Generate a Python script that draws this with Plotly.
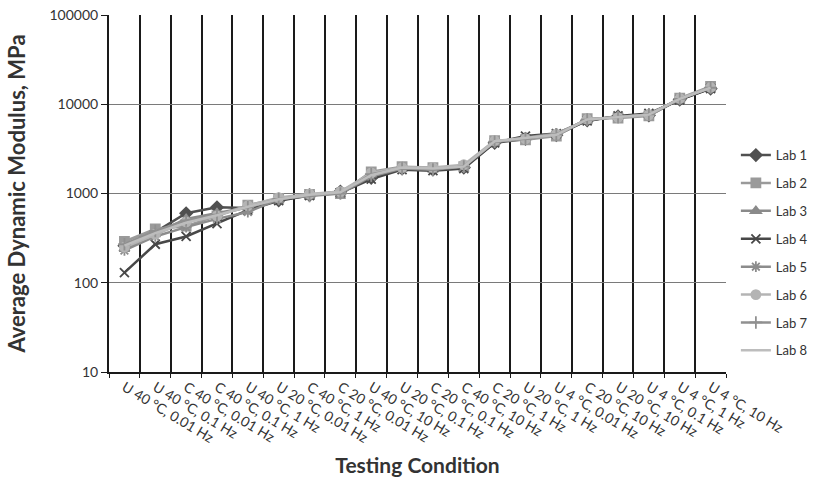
import plotly.graph_objects as go

conditions = [
    "U 40 °C, 0.01 Hz", "U 40 °C, 0.1 Hz", "C 40 °C, 0.01 Hz", "C 40 °C, 0.1 Hz",
    "U 40 °C, 1 Hz", "U 20 °C, 0.01 Hz", "C 40 °C, 1 Hz", "C 20 °C, 0.01 Hz",
    "U 40 °C, 10 Hz", "U 20 °C, 0.1 Hz", "C 20 °C, 0.1 Hz", "C 40 °C, 10 Hz",
    "C 20 °C, 1 Hz", "U 20 °C, 1 Hz", "U 4 °C, 0.01 Hz", "C 20 °C, 10 Hz",
    "U 20 °C, 10 Hz", "U 4 °C, 0.1 Hz", "U 4 °C, 1 Hz", "U 4 °C, 10 Hz",
]

lab1 = [260, 370, 600, 700, 690, 840, 960, 1050, 1500, 1900, 1850, 1950, 3700, 4100, 4500, 6600, 7300, 7500, 11300, 15000]
lab2 = [290, 400, 430, 560, 740, 880, 980, 1000, 1750, 2000, 1950, 2000, 3900, 4000, 4400, 6900, 7000, 7400, 11700, 15800]
lab3 = [240, 360, 520, 600, 700, 850, 940, 1050, 1600, 1950, 1900, 2050, 3800, 4200, 4600, 6700, 7300, 7700, 11500, 15200]
lab4 = [130, 270, 330, 460, 650, 830, 950, 1020, 1450, 1850, 1800, 1900, 3700, 4400, 4700, 6500, 7400, 7900, 11200, 15000]
lab5 = [230, 330, 420, 520, 620, 860, 960, 1000, 1550, 1900, 1900, 2000, 3800, 4200, 4700, 6700, 7200, 7700, 11400, 15500]
lab6 = [250, 350, 480, 560, 730, 900, 990, 1050, 1700, 1950, 1950, 2100, 3900, 4100, 4600, 6800, 7100, 7600, 11600, 15400]
lab7 = [270, 380, 500, 580, 700, 870, 940, 1000, 1650, 1900, 1850, 2000, 3800, 4100, 4600, 6700, 7200, 7700, 11500, 15300]
lab8 = [260, 360, 470, 570, 710, 860, 970, 1030, 1600, 1950, 1900, 2000, 3850, 4150, 4550, 6750, 7250, 7650, 11500, 15300]

series = [
    ("Lab 1", lab1, "#505050", "diamond", 9),
    ("Lab 2", lab2, "#9a9a9a", "square", 9),
    ("Lab 3", lab3, "#8a8a8a", "triangle-up", 9),
    ("Lab 4", lab4, "#484848", "x-thin", 9),
    ("Lab 5", lab5, "#8c8c8c", "asterisk", 9),
    ("Lab 6", lab6, "#b4b4b4", "circle", 9),
    ("Lab 7", lab7, "#909090", "cross-thin", 9),
    ("Lab 8", lab8, "#bdbdbd", None, 0),
]

fig = go.Figure()
for name, vals, color, symbol, size in series:
    if symbol is None:
        fig.add_trace(go.Scatter(x=conditions, y=vals, name=name, mode="lines",
                                 legendgroup=name,
                                 line=dict(color=color, width=2.5)))
    else:
        fig.add_trace(go.Scatter(
            x=conditions, y=vals, name=name, mode="lines+markers",
            legendgroup=name,
            line=dict(color=color, width=2.5),
            marker=dict(symbol=symbol, size=size, color=color,
                        line=dict(color=color, width=1.8)),
        ))

font_family = "Lato, 'Open Sans', sans-serif"

fig.update_layout(
    width=825, height=487,
    margin=dict(l=109, r=95, t=15, b=115),
    paper_bgcolor="white", plot_bgcolor="white",
    font=dict(family=font_family, color="#333333", size=13),
    showlegend=True,
    legend=dict(x=1.016, y=0.333, xanchor="left", yanchor="middle",
                font=dict(size=13, color="#333333"), tracegroupgap=8,
                itemwidth=30, bgcolor="rgba(0,0,0,0)"),
    xaxis=dict(
        type="category", tickson="boundaries", tickangle=31,
        range=[-0.5, 19.5], automargin=False,
        showgrid=True, gridcolor="#1a1a1a", gridwidth=1.8,
        showline=True, linecolor="#1a1a1a", linewidth=2, mirror=False,
        ticks="outside", ticklen=4, tickcolor="#1a1a1a",
        tickfont=dict(size=14, color="#333333"),
        title=dict(text="<b>Testing Condition</b>", font=dict(size=21, color="#333333"), standoff=14),
    ),
    yaxis=dict(
        type="log", range=[1, 5], automargin=False,
        tickvals=[10, 100, 1000, 10000, 100000],
        ticktext=["10", "100", "1000", "10000", "100000"],
        showgrid=True, gridcolor="#7a7a7a", gridwidth=1.4,
        showline=True, linecolor="#1a1a1a", linewidth=2,
        ticks="outside", ticklen=6, tickcolor="#1a1a1a",
        tickfont=dict(size=14, color="#333333"),
        title=dict(text="<b>Average Dynamic Modulus, MPa</b>", font=dict(size=22, color="#333333"), standoff=18),
    ),
)

fig.write_html("out.html")
